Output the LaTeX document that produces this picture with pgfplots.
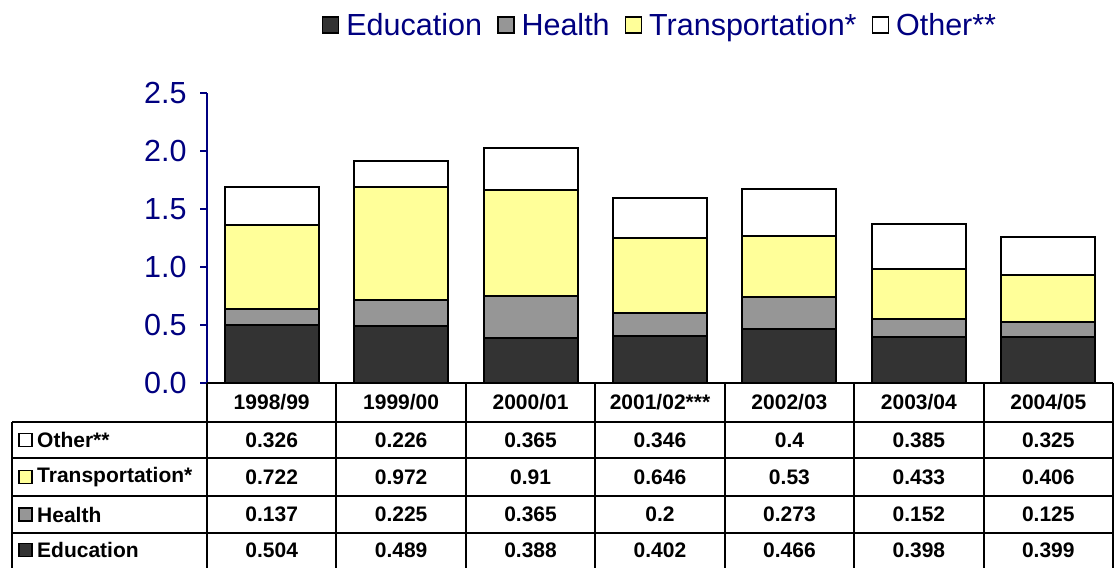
\documentclass[border=0pt]{standalone}
\usepackage{fontspec}
\setmainfont{Liberation Sans}
\usepackage{pgfplots}
\pgfplotsset{compat=1.18}
\definecolor{navy}{HTML}{000080}
\definecolor{edu}{HTML}{333333}
\definecolor{hea}{HTML}{969696}
\definecolor{tra}{HTML}{FFFF99}
\begin{document}
\begin{tikzpicture}[x=1pt,y=1pt]
\useasboundingbox (0,0) rectangle (1115,567);
\begin{axis}[
  at={(207pt,184pt)}, anchor=south west,
  scale only axis, width=906pt, height=290pt,
  ybar stacked, bar width=0.727,
  xmin=-0.5, xmax=6.5, ymin=0, ymax=2.5,
  axis lines*=left,
  x axis line style={draw=none},
  xtick=\empty,
  ytick={0,0.5,1,1.5,2,2.5},
  y axis line style={navy, line width=1.5pt},
  ytick style={navy, line width=1.5pt},
  tick align=outside, major tick length=7pt,
  yticklabel style={text=navy, font=\fontsize{30.5}{34}\selectfont, xshift=-10pt, /pgf/number format/.cd, fixed, fixed zerofill, precision=1, assume math mode=true},
  legend style={at={(0.5,1.234)}, anchor=center, draw=none, fill=none,
    legend columns=4, font=\fontsize{30.5}{34}\selectfont, text=navy,
    /tikz/every odd column/.append style={column sep=5pt},
    /tikz/every even column/.append style={column sep=13pt}},
  legend image code/.code={\draw[#1,line width=1.5pt] (0pt,-8pt) rectangle (16pt,8pt);},
  clip=false,
]
\addplot[fill=edu, draw=black, line width=2pt] coordinates {(0,0.504) (1,0.489) (2,0.388) (3,0.402) (4,0.466) (5,0.398) (6,0.399)};
\addplot[fill=hea, draw=black, line width=2pt] coordinates {(0,0.137) (1,0.225) (2,0.365) (3,0.2) (4,0.273) (5,0.152) (6,0.125)};
\addplot[fill=tra, draw=black, line width=2pt] coordinates {(0,0.722) (1,0.972) (2,0.91) (3,0.646) (4,0.53) (5,0.433) (6,0.406)};
\addplot[fill=white, draw=black, line width=2pt] coordinates {(0,0.326) (1,0.226) (2,0.365) (3,0.346) (4,0.4) (5,0.385) (6,0.325)};
\legend{Education, Health, Transportation*, Other**}
\end{axis}
% data table
\begin{scope}[line width=2pt, black]
  \draw (207,184) -- (1113,184);
  \draw (12,145) -- (1113,145);
  \draw (12,108.7) -- (1113,108.7);
  \draw (12,71) -- (1113,71);
  \draw (12,34.3) -- (1113,34.3);
  \draw (12,145) -- (12,-5);
  \foreach \i in {0,...,7} { \draw ({207+129.43*\i},184) -- ({207+129.43*\i},-5); }
\end{scope}
\tikzset{cell/.style={font=\fontsize{21}{24}\selectfont\bfseries, anchor=center, inner sep=0pt}}
\foreach \v [count=\i from 0] in {1998/99,1999/00,2000/01,2001/02***,2002/03,2003/04,2004/05}
  \node[cell] at ({271.7+129.43*\i},164.5) {\v};
\foreach \v [count=\i from 0] in {0.326,0.226,0.365,0.346,0.4,0.385,0.325}
  \node[cell] at ({271.7+129.43*\i},127) {\v};
\foreach \v [count=\i from 0] in {0.722,0.972,0.91,0.646,0.53,0.433,0.406}
  \node[cell] at ({271.7+129.43*\i},90) {\v};
\foreach \v [count=\i from 0] in {0.137,0.225,0.365,0.2,0.273,0.152,0.125}
  \node[cell] at ({271.7+129.43*\i},52.5) {\v};
\foreach \v [count=\i from 0] in {0.504,0.489,0.388,0.402,0.466,0.398,0.399}
  \node[cell] at ({271.7+129.43*\i},17) {\v};
% row labels
\foreach \y/\c/\t in {127/white/Other**, 90/tra/Transportation*, 52.5/hea/Health, 17/edu/Education} {
  \draw[fill=\c, line width=1.5pt] (19,{\y-6.5}) rectangle (32,{\y+6.5});
  \node[font=\fontsize{21}{24}\selectfont\bfseries, anchor=west, inner sep=0pt] at (37,\y) {\t};
}
\end{tikzpicture}
\end{document}
